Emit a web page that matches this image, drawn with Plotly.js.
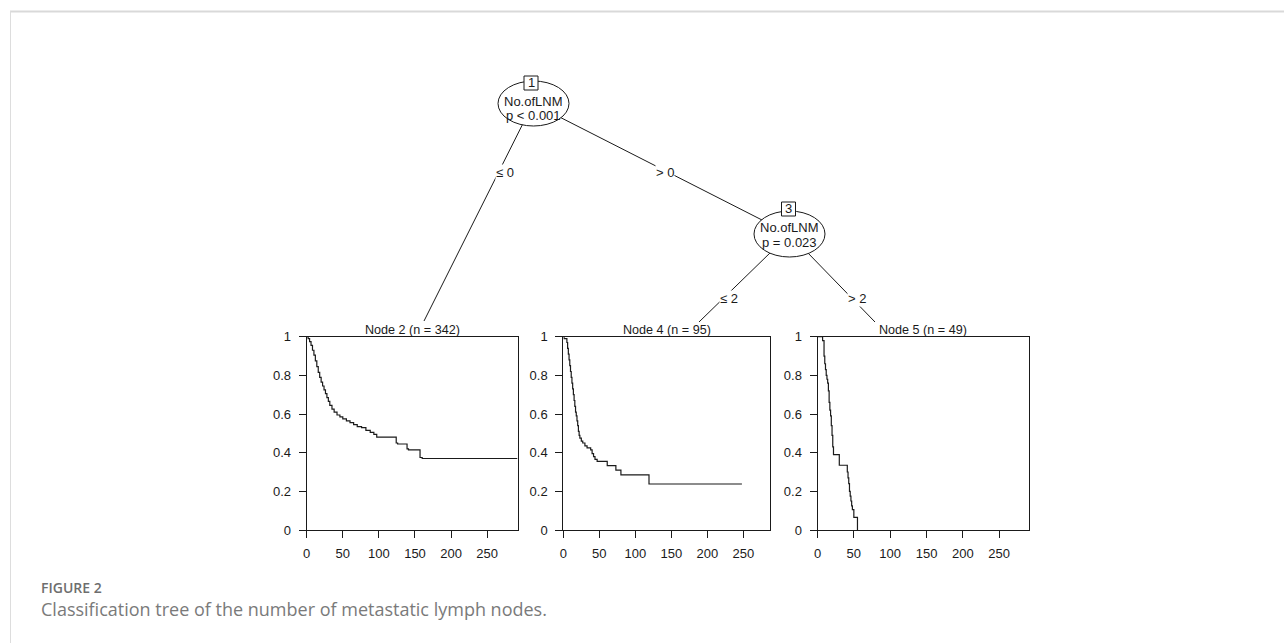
<!DOCTYPE html>
<html>
<head>
<meta charset="utf-8">
<script src="https://cdn.plot.ly/plotly-3.0.1.min.js"></script>
<style>
  html, body { margin: 0; padding: 0; background: #fff; }
  #chart { width: 1284px; height: 643px; }
</style>
</head>
<body>
<div id="chart"></div>
<script>
// ---------- Data ----------
const node2Time = [0, 2, 4, 6, 8, 10, 12, 14, 16, 18, 20, 22, 24, 26, 28, 30, 32, 35, 38, 42, 46, 50, 55, 60, 65, 70, 76, 82, 88, 93, 97, 124, 126, 139, 141, 157, 160, 292];
const node2Surv = [1, 0.99, 0.975, 0.955, 0.93, 0.905, 0.875, 0.845, 0.815, 0.79, 0.765, 0.745, 0.725, 0.705, 0.685, 0.665, 0.645, 0.625, 0.61, 0.595, 0.585, 0.575, 0.565, 0.555, 0.545, 0.535, 0.53, 0.515, 0.505, 0.495, 0.48, 0.45, 0.445, 0.42, 0.415, 0.375, 0.37, 0.37];

const node4Time = [0, 1, 5, 6, 7, 8, 9, 10, 11, 12, 13, 14, 15, 16, 17, 18, 19, 20, 21, 22, 23, 25, 27, 30, 33, 38, 40, 42, 44, 47, 61, 73, 80, 119, 248];
const node4Surv = [1, 0.99, 0.97, 0.94, 0.91, 0.88, 0.85, 0.82, 0.79, 0.76, 0.73, 0.70, 0.67, 0.64, 0.61, 0.59, 0.565, 0.54, 0.51, 0.49, 0.475, 0.46, 0.45, 0.435, 0.425, 0.415, 0.395, 0.38, 0.365, 0.355, 0.333, 0.31, 0.285, 0.238, 0.238];

const node5Time = [0, 7, 9, 10, 11, 12, 13, 14, 15, 16, 17, 18, 19, 20, 21, 22, 30, 41, 42, 43, 44, 45, 46, 47, 48, 50, 55];
const node5Surv = [1, 0.98, 0.9, 0.86, 0.83, 0.8, 0.78, 0.76, 0.72, 0.66, 0.62, 0.59, 0.54, 0.49, 0.43, 0.39, 0.335, 0.3, 0.27, 0.24, 0.2, 0.175, 0.15, 0.125, 0.105, 0.065, 0];

const panelTitles = ["Node 2 (n = 342)", "Node 4 (n = 95)", "Node 5 (n = 49)"];
const xTickVals = [0, 50, 100, 150, 200, 250];
const yTickVals = [0, 0.2, 0.4, 0.6, 0.8, 1];
const yTickText = ["0", "0.2", "0.4", "0.6", "0.8", "1"];

const innerNodeIds = ["1", "3"];
const innerNodeVar = ["No.ofLNM", "No.ofLNM"];
const innerNodeP = ["p < 0.001", "p = 0.023"];
const edgeLabels = ["\u2264 0", "> 0", "\u2264 2", "> 2"];

const captionLabel = "FIGURE 2";
const captionText = "Classification tree of the number of metastatic lymph nodes.";

// ---------- Layout helpers (pixels -> paper) ----------
const W = 1284, H = 643;
const px = x => x / W;
const py = y => 1 - y / H;

const FONT = "Liberation Sans, Arial, sans-serif";
const FS = 13;
const INK = "#1a1a1a";

const panels = [
  {l: 306.7, r: 517.5, xmax: 292},
  {l: 563.3, r: 770, xmax: 287},
  {l: 817.5, r: 1029, xmax: 291}
];
const pTop = 336.7, pBot = 530;

const series = [[node2Time, node2Surv], [node4Time, node4Surv], [node5Time, node5Surv]];

const data = series.map((s, i) => ({
  type: "scatter",
  mode: "lines",
  x: s[0],
  y: s[1],
  line: {shape: "hv", color: INK, width: 1.2},
  xaxis: i === 0 ? "x" : "x" + (i + 1),
  yaxis: i === 0 ? "y" : "y" + (i + 1),
  hoverinfo: "skip",
  showlegend: false
}));

const layout = {
  width: W, height: H,
  margin: {l: 0, r: 0, t: 0, b: 0},
  paper_bgcolor: "#fff",
  plot_bgcolor: "rgba(0,0,0,0)",
  showlegend: false,
  font: {family: FONT, color: INK, size: FS},
  shapes: [],
  annotations: []
};

panels.forEach((p, i) => {
  const xk = i === 0 ? "xaxis" : "xaxis" + (i + 1);
  const yk = i === 0 ? "yaxis" : "yaxis" + (i + 1);
  layout[xk] = {
    domain: [px(p.l), px(p.r)],
    anchor: i === 0 ? "y" : "y" + (i + 1),
    range: [0, p.xmax],
    tickvals: xTickVals,
    ticks: "outside", ticklen: 7, tickwidth: 1, tickcolor: INK,
    showline: true, mirror: true, linecolor: INK, linewidth: 1,
    showgrid: false, zeroline: false,
    tickfont: {family: FONT, size: FS, color: INK},
    ticklabelstandoff: 4,
    fixedrange: true
  };
  layout[yk] = {
    domain: [py(pBot), py(pTop)],
    anchor: i === 0 ? "x" : "x" + (i + 1),
    range: [0, 1],
    tickvals: yTickVals,
    ticktext: yTickText,
    ticks: "outside", ticklen: 7, tickwidth: 1, tickcolor: INK,
    showline: true, mirror: true, linecolor: INK, linewidth: 1,
    showgrid: false, zeroline: false,
    tickfont: {family: FONT, size: FS, color: INK},
    ticklabelstandoff: 5,
    fixedrange: true
  };
  layout.annotations.push({
    xref: "paper", yref: "paper",
    x: px((p.l + p.r) / 2), y: py(330),
    text: panelTitles[i], showarrow: false,
    xanchor: "center", yanchor: "middle",
    font: {family: FONT, size: 12.6, color: INK}
  });
});

// ---------- Tree ----------
const lineStyle = {color: INK, width: 1};
const edges = [
  [533, 103.5, 424, 321],
  [533, 103.5, 789.5, 234],
  [789.5, 234, 699, 322],
  [789.5, 234, 875, 322]
];
edges.forEach(e => layout.shapes.push({
  type: "line", xref: "paper", yref: "paper",
  x0: px(e[0]), y0: py(e[1]), x1: px(e[2]), y1: py(e[3]),
  line: lineStyle, layer: "above"
}));

const ellipses = [
  {x0: 498, x1: 569, y0: 81, y1: 126},
  {x0: 754, x1: 825, y0: 211, y1: 257}
];
ellipses.forEach(el => layout.shapes.push({
  type: "circle", xref: "paper", yref: "paper",
  x0: px(el.x0), x1: px(el.x1), y0: py(el.y1), y1: py(el.y0),
  fillcolor: "#fff", line: lineStyle, layer: "above"
}));

const idBoxes = [
  {cx: 531, y0: 76, y1: 90},
  {cx: 788.5, y0: 202, y1: 216}
];
idBoxes.forEach((b, i) => {
  layout.shapes.push({
    type: "rect", xref: "paper", yref: "paper",
    x0: px(b.cx - 7), x1: px(b.cx + 7), y0: py(b.y1), y1: py(b.y0),
    fillcolor: "#fff", line: lineStyle, layer: "above"
  });
  layout.annotations.push({
    xref: "paper", yref: "paper", x: px(b.cx), y: py((b.y0 + b.y1) / 2),
    text: innerNodeIds[i], showarrow: false, xanchor: "center", yanchor: "middle",
    font: {family: FONT, size: FS, color: INK}
  });
});

const nodeTextPos = [
  {cx: 533, y1: 102, y2: 116},
  {cx: 789.5, y1: 228, y2: 242}
];
nodeTextPos.forEach((t, i) => {
  layout.annotations.push({
    xref: "paper", yref: "paper", x: px(t.cx), y: py(t.y1),
    text: innerNodeVar[i], showarrow: false, xanchor: "center", yanchor: "middle",
    font: {family: FONT, size: FS, color: INK}
  });
  layout.annotations.push({
    xref: "paper", yref: "paper", x: px(t.cx), y: py(t.y2),
    text: innerNodeP[i], showarrow: false, xanchor: "center", yanchor: "middle",
    font: {family: FONT, size: FS, color: INK}
  });
});

const edgeLabelPos = [[505, 172], [665, 172], [729, 298], [857, 298]];
edgeLabelPos.forEach((p, i) => layout.annotations.push({
  xref: "paper", yref: "paper", x: px(p[0]), y: py(p[1]),
  text: edgeLabels[i], showarrow: false, xanchor: "center", yanchor: "middle",
  bgcolor: "#fff", borderpad: 0,
  font: {family: FONT, size: FS, color: INK}
}));

// ---------- Frame and caption ----------
layout.shapes.push({
  type: "line", xref: "paper", yref: "paper",
  x0: px(10), x1: 1, y0: py(11.5), y1: py(11.5),
  line: {color: "#d9d9d9", width: 2}, layer: "below"
});
layout.shapes.push({
  type: "line", xref: "paper", yref: "paper",
  x0: px(10.5), x1: px(10.5), y0: py(11), y1: 0,
  line: {color: "#dddddd", width: 1}, layer: "below"
});

layout.annotations.push({
  xref: "paper", yref: "paper", x: px(39), y: py(587),
  text: captionLabel, showarrow: false, xanchor: "left", yanchor: "middle",
  font: {family: "Open Sans, Lato, sans-serif", size: 14, color: "#6e6e6e", weight: 600}
});
layout.annotations.push({
  xref: "paper", yref: "paper", x: px(39), y: py(609),
  text: captionText, showarrow: false, xanchor: "left", yanchor: "middle",
  font: {family: "Open Sans, Lato, sans-serif", size: 18, color: "#7a7a7a"}
});

Plotly.newPlot("chart", data, layout, {displayModeBar: false, staticPlot: true});
</script>
</body>
</html>
